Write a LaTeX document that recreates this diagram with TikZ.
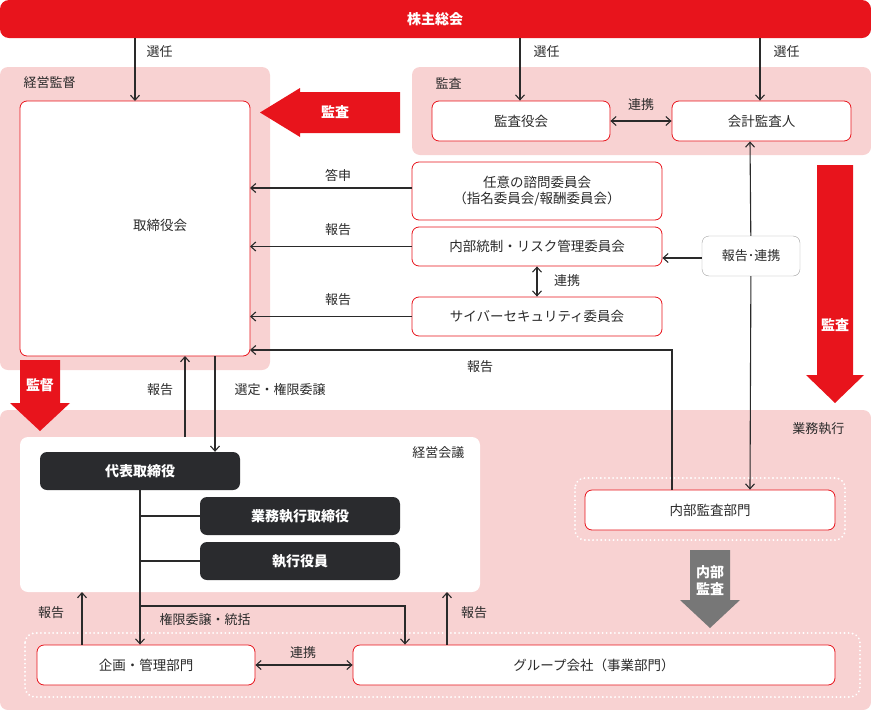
\documentclass[tikz,border=0pt]{standalone}
\usepackage{fontspec}
\setmainfont{Noto Sans CJK JP}
\usetikzlibrary{arrows.meta}
\definecolor{rd}{HTML}{E8141C}
\definecolor{pk}{HTML}{F8D2D2}
\definecolor{dk}{HTML}{2A2B2E}
\definecolor{tx}{HTML}{2A2A2A}
\definecolor{gy}{HTML}{777777}
\tikzset{
  every node/.style={font=\fontsize{13.5}{16}\selectfont,text=tx},
  lab/.style={font=\fontsize{13}{15}\selectfont},
  region/.style={fill=pk,rounded corners=8pt,draw=none},
  wbox/.style={draw=rd,fill=white,rounded corners=7pt,line width=0.8pt},
  dbox/.style={fill=dk,rounded corners=7pt,text=white,font=\fontsize{14}{16}\bfseries\selectfont},
  conn/.style={-{Straight Barb[length=5pt,width=9pt]},line width=1.1pt,draw=tx},
  dconn/.style={{Straight Barb[length=5pt,width=9pt]}-{Straight Barb[length=5pt,width=9pt]},line width=1.1pt,draw=tx},
  dotr/.style={draw=white,line width=2pt,dash pattern=on 0.1pt off 4pt,line cap=round,rounded corners=10pt},
  wt/.style={text=white,font=\fontsize{14}{17}\bfseries\selectfont},
}
\begin{document}
\begin{tikzpicture}[x=1pt,y=-1pt]
\useasboundingbox (0,0) rectangle (871,710);
% regions
\fill[region] (0,67) rectangle (270,370);
\node[anchor=west,lab] at (20,83) {経営監督};
\fill[region] (412,67) rectangle (871,155);
\node[anchor=west,lab] at (432,83) {監査};
\fill[region] (0,410) rectangle (871,710);
\node[anchor=east,lab] at (848,429) {業務執行};
\fill[white,rounded corners=8pt] (20,437) rectangle (480,592);
\node[anchor=east,lab] at (468,453) {経営会議};
\draw[dotr] (25,633) rectangle (860,697);
\draw[dotr] (575,478) rectangle (845,540);
% top bar
\fill[rd,rounded corners=9pt] (0,0) rectangle (871,38);
\node[wt] (sh) at (435,19) {株主総会};
% boxes
\draw[wbox] (20,101) rectangle (250,356);
\node (tb) at (160,225) {取締役会};
\coordinate (tbtop) at (135,101);
\node[wbox,minimum width=178pt,minimum height=40pt] (kas) at (521,121) {監査役会};
\node[wbox,minimum width=179pt,minimum height=40pt] (kai) at (761.5,121) {会計監査人};
\node[wbox,minimum width=250pt,minimum height=58pt,align=center] (nin) at (537,191) {任意の諮問委員会\\（指名委員会/報酬委員会）};
\node[wbox,minimum width=250pt,minimum height=39pt] (nai) at (537,246.5) {内部統制・リスク管理委員会};
\node[wbox,minimum width=250pt,minimum height=39pt] (cyb) at (537,316.5) {サイバーセキュリティ委員会};
\node[draw=gy!70,fill=white,rounded corners=7pt,minimum width=98pt,minimum height=40pt,lab] (hr) at (751,256) {報告･連携};
\node[wbox,minimum width=250pt,minimum height=40pt] (nb) at (710,510) {内部監査部門};
\node[dbox,minimum width=200pt,minimum height=38pt] (dh) at (140,471) {代表取締役};
\node[dbox,minimum width=200pt,minimum height=38pt] (gs) at (300,516) {業務執行取締役};
\node[dbox,minimum width=200pt,minimum height=38pt] (sy) at (300,561) {執行役員};
\node[wbox,minimum width=218pt,minimum height=40pt] (kk) at (146,665) {企画・管理部門};
\node[wbox,minimum width=482pt,minimum height=40pt] (gr) at (594,665) {グループ会社（事業部門）};
% big arrows
\fill[rd] (400,92) -- (300,92) -- (300,88) -- (260,112.5) -- (300,137) -- (300,133) -- (400,133) -- cycle;
\node[wt] at (335,112.5) {監査};
\fill[rd] (817,165) -- (853,165) -- (853,375) -- (864,375) -- (835,403) -- (806,375) -- (817,375) -- cycle;
\node[wt] at (835,325) {監査};
\fill[rd] (20,360) -- (60,360) -- (60,403) -- (70,403) -- (40,431) -- (10,403) -- (20,403) -- cycle;
\node[wt] at (40,385) {監督};
\fill[gy] (690,550) -- (730,550) -- (730,600) -- (740,600) -- (710,628) -- (680,600) -- (690,600) -- cycle;
\node[wt,align=center] at (710,581) {内部\\監査};
% connectors
\draw[conn] (135,38) -- (tbtop);
\node[anchor=west,lab] at (143,52) {選任};
\draw[conn] (520,38) -- (kas.north -| 520,0);
\node[anchor=west,lab] at (530,52) {選任};
\draw[conn] (760,38) -- (kai.north -| 760,0);
\node[anchor=west,lab] at (770,52) {選任};
\draw[dconn] (kas) -- (kai);
\node[lab] at (641,105) {連携};
\draw[conn] (nin.west |- 0,188) -- (250,188);
\node[lab] at (338,175) {答申};
\draw[conn] (nai) -- (250,246.5);
\node[lab] at (338,230) {報告};
\draw[conn] (cyb) -- (250,316.5);
\node[lab] at (338,300) {報告};
\draw[dconn] (nai) -- (cyb);
\node[lab] at (567,281) {連携};
\draw[conn] (hr.west |- 0,258) -- (nai.east |- 0,258);
\draw[conn] (hr) -- (kai.south -| 750,0);
\draw[conn] (hr) -- (nb.north -| 750,0);
\draw[conn] (nb.north -| 672,0) -- (672,350) -- (250,350);
\node[lab] at (480,367) {報告};
\draw[conn] (185,437) -- (185,356);
\node[lab] at (160,390) {報告};
\draw[conn] (215,356) -- (dh.north -| 215,0);
\node[lab] at (280,390) {選定・権限委譲};
\draw[conn] (dh.south) -- (kk.north -| dh.south);
\draw[line width=1.1pt,draw=tx] (140,516) -- (gs.west);
\draw[line width=1.1pt,draw=tx] (140,561) -- (sy.west);
\draw[conn] (140,606) -- (405,606) -- (gr.north -| 405,0);
\node[lab] at (205,620) {権限委譲・統括};
\draw[conn] (kk.north -| 82,0) -- (82,592);
\node[lab] at (51,613) {報告};
\draw[conn] (gr.north -| 447,0) -- (447,592);
\node[lab] at (474,613) {報告};
\draw[dconn] (kk) -- (gr);
\node[lab] at (303,653) {連携};
\end{tikzpicture}
\end{document}
